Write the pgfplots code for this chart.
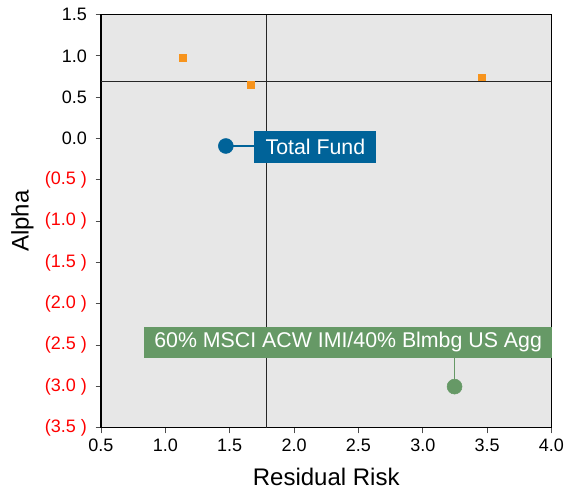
\documentclass[border=0pt]{standalone}
\usepackage{fontspec}
\setmainfont{Liberation Sans}
\usepackage{pgfplots}
\pgfplotsset{compat=1.18}
\definecolor{bgGrey}{RGB}{231,231,231}
\definecolor{ptOrange}{RGB}{247,148,29}
\definecolor{fundBlue}{RGB}{0,99,153}
\definecolor{benchGreen}{RGB}{102,153,102}
\begin{document}
\begin{tikzpicture}
\begin{axis}[
    scale only axis,
    width=337.9pt, height=310.1pt,
    xmin=0.5, xmax=4.0, ymin=-3.5, ymax=1.5,
    axis background/.style={fill=bgGrey},
    axis line style={black, line width=0.8pt},
    xtick={0.5,1,1.5,2,2.5,3,3.5,4},
    xticklabels={0.5,1.0,1.5,2.0,2.5,3.0,3.5,4.0},
    ytick={-3.5,-3,-2.5,-2,-1.5,-1,-0.5,0,0.5,1,1.5},
    yticklabels={{\color{red}(3.5 )},{\color{red}(3.0 )},{\color{red}(2.5 )},{\color{red}(2.0 )},{\color{red}(1.5 )},{\color{red}(1.0 )},{\color{red}(0.5 )},0.0,0.5,1.0,1.5},
    tick label style={font=\fontsize{13.5}{15}\selectfont},
    yticklabel style={xshift=-3pt},
    xticklabel style={yshift=-1pt},
    xtick pos=bottom, ytick pos=left,
    tick align=outside,
    major tick length=4pt,
    tick style={black!70, line width=0.7pt},
    xlabel={Residual Risk}, ylabel={Alpha},
    label style={font=\fontsize{18}{20}\selectfont},
    xlabel style={at={(axis description cs:0.5,-0.1178)}, anchor=center},
    ylabel style={at={(axis description cs:-0.1743,0.5)}, anchor=center},
    clip=false,
]
% reference lines
\addplot[black!85, line width=0.7pt] coordinates {(1.783,-3.5) (1.783,1.5)};
\addplot[black!85, line width=0.7pt] coordinates {(0.5,0.696) (4.0,0.696)};
% connectors
\addplot[fundBlue, line width=0.8pt] coordinates {(1.47,-0.09) (1.69,-0.09)};
\addplot[benchGreen, line width=0.8pt] coordinates {(3.247,-2.66) (3.247,-3.0)};
% managers
\addplot[only marks, mark=square*, mark size=2.6pt, color=ptOrange] coordinates {(1.138,0.974) (1.666,0.648) (3.457,0.741)};
% total fund
\addplot[only marks, mark=*, mark size=5.6pt, color=fundBlue] coordinates {(1.47,-0.09)};
% benchmark
\addplot[only marks, mark=*, mark size=5.6pt, color=benchGreen] coordinates {(3.247,-3.0)};
\node[fill=fundBlue, text=white, anchor=west, minimum width=91.5pt, minimum height=24pt, inner sep=0pt,
      font=\fontsize{16}{18}\selectfont] at (axis cs:1.69,-0.102) {Total Fund};
\node[fill=benchGreen, text=white, minimum width=305.8pt, minimum height=23.7pt, inner sep=0pt,
      font=\fontsize{16}{18}\selectfont] at (axis cs:2.420,-2.466) {60\% MSCI ACW IMI/40\% Blmbg US Agg};
\end{axis}
\path (current axis.south west) ++(-75.75pt,-47.25pt) coordinate (bbsw);
\path (current axis.north east) ++(13.9pt,10.9pt) coordinate (bbne);
\path (bbsw) rectangle (bbne);
\end{tikzpicture}
\end{document}
